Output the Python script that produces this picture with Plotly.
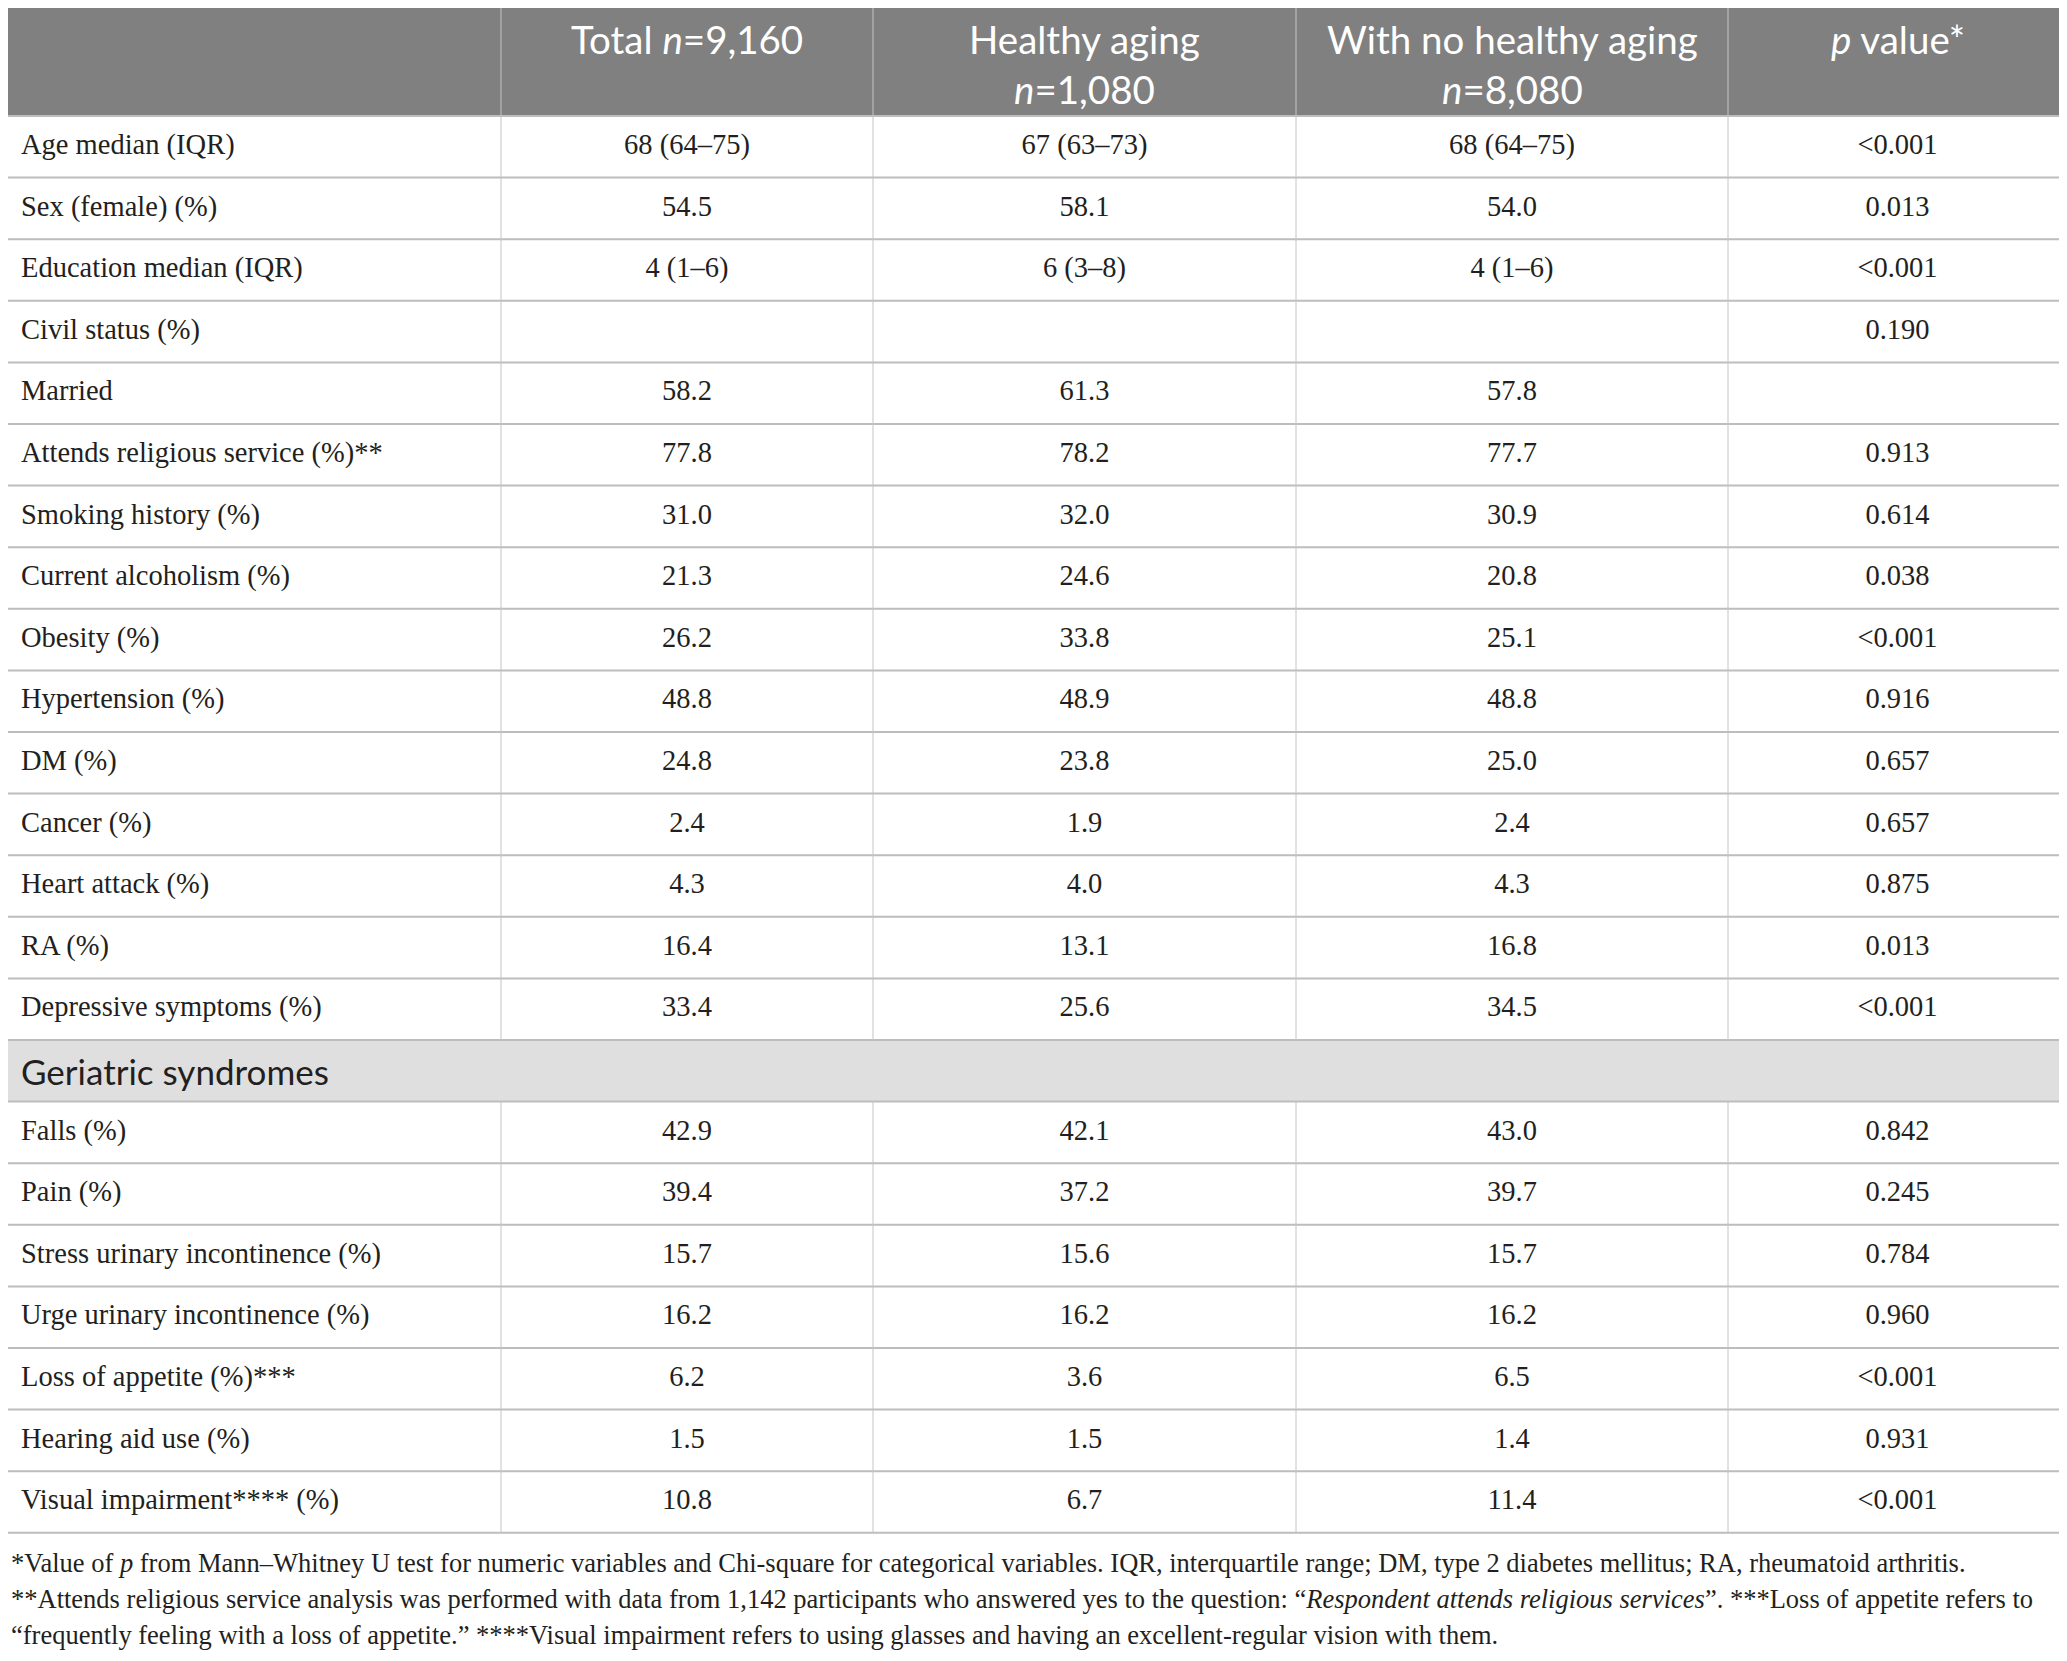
import plotly.graph_objects as go

# table content
col_headers = ["", "Total <i>n</i>=9,160", "Healthy aging<br><i>n</i>=1,080",
               "With no healthy aging<br><i>n</i>=8,080", "<i>p</i> value*"]

rows_top = ["Age median (IQR)", "Sex (female) (%)", "Education median (IQR)", "Civil status (%)",
            "Married", "Attends religious service (%)**", "Smoking history (%)",
            "Current alcoholism (%)", "Obesity (%)", "Hypertension (%)", "DM (%)", "Cancer (%)",
            "Heart attack (%)", "RA (%)", "Depressive symptoms (%)"]
total_top = ["68 (64–75)", "54.5", "4 (1–6)", "", "58.2", "77.8", "31.0", "21.3", "26.2",
             "48.8", "24.8", "2.4", "4.3", "16.4", "33.4"]
healthy_top = ["67 (63–73)", "58.1", "6 (3–8)", "", "61.3", "78.2", "32.0", "24.6", "33.8",
               "48.9", "23.8", "1.9", "4.0", "13.1", "25.6"]
nohealthy_top = ["68 (64–75)", "54.0", "4 (1–6)", "", "57.8", "77.7", "30.9", "20.8", "25.1",
                 "48.8", "25.0", "2.4", "4.3", "16.8", "34.5"]
pval_top = ["<0.001", "0.013", "<0.001", "0.190", "", "0.913", "0.614", "0.038", "<0.001",
            "0.916", "0.657", "0.657", "0.875", "0.013", "<0.001"]

section_label = "Geriatric syndromes"

rows_geri = ["Falls (%)", "Pain (%)", "Stress urinary incontinence (%)", "Urge urinary incontinence (%)",
             "Loss of appetite (%)***", "Hearing aid use (%)", "Visual impairment**** (%)"]
total_geri = ["42.9", "39.4", "15.7", "16.2", "6.2", "1.5", "10.8"]
healthy_geri = ["42.1", "37.2", "15.6", "16.2", "3.6", "1.5", "6.7"]
nohealthy_geri = ["43.0", "39.7", "15.7", "16.2", "6.5", "1.4", "11.4"]
pval_geri = ["0.842", "0.245", "0.784", "0.960", "<0.001", "0.931", "<0.001"]

footnotes = [
    "*Value of <i>p</i> from Mann–Whitney U test for numeric variables and Chi-square for categorical variables. IQR, interquartile range; DM, type 2 diabetes mellitus; RA, rheumatoid arthritis.",
    "**Attends religious service analysis was performed with data from 1,142 participants who answered yes to the question: “<i>Respondent attends religious services</i>”. ***Loss of appetite refers to",
    "“frequently feeling with a loss of appetite.” ****Visual impairment refers to using glasses and having an excellent-regular vision with them.",
]

# geometry (pixels, page coordinates)
W, H = 2067, 1661
OFF = 8  # browser body margin, shift axis ranges so data coords == page coords
col_edges = [0, 501, 873, 1296, 1728, 2067]
head_top, head_bot = 5, 116
row_h = 61.6
serif = "Liberation Serif"
sans = "Lato"
line_col = "#c4c4c4"
text_col = "#231f20"

all_rows = rows_top + [None] + rows_geri
n_rows = len(all_rows)
row_y = [head_bot + row_h * (i + 0.5) for i in range(n_rows)]
sec_idx = len(rows_top)
table_bot = head_bot + row_h * n_rows

fig = go.Figure()

# body text columns
cols_data = [total_top + [""] + total_geri, healthy_top + [""] + healthy_geri,
             nohealthy_top + [""] + nohealthy_geri, pval_top + [""] + pval_geri]
labels = [r if r is not None else "" for r in all_rows]
fig.add_trace(go.Scatter(x=[21] * n_rows, y=row_y, text=labels, mode="text",
                         textposition="middle right",
                         textfont=dict(family=serif, size=28.5, color=text_col), hoverinfo="skip"))
for j, vals in enumerate(cols_data):
    cx = (col_edges[j + 1] + col_edges[j + 2]) / 2
    fig.add_trace(go.Scatter(x=[cx] * n_rows, y=row_y, text=vals, mode="text",
                             textposition="middle center",
                             textfont=dict(family=serif, size=28.5, color=text_col), hoverinfo="skip"))

shapes = []
# header band and section band
shapes.append(dict(type="rect", x0=0, x1=W + OFF, y0=head_top, y1=head_bot, fillcolor="#808080",
                   line=dict(width=0), layer="below"))
shapes.append(dict(type="rect", x0=0, x1=W + OFF, y0=head_bot + row_h * sec_idx,
                   y1=head_bot + row_h * (sec_idx + 1), fillcolor="#e0dfe0",
                   line=dict(width=0), layer="below"))
# horizontal rules
for i in range(n_rows + 1):
    y = head_bot + row_h * i
    shapes.append(dict(type="line", x0=0, x1=W + OFF, y0=y, y1=y, line=dict(color="#bdbdbd", width=2)))
shapes.append(dict(type="line", x0=0, x1=W + OFF, y0=head_top, y1=head_top,
                   line=dict(color="#bdbdbd", width=2)))
# vertical rules (section row spans the full width)
for x in col_edges[1:-1]:
    shapes.append(dict(type="line", x0=x, x1=x, y0=head_top, y1=head_bot + row_h * sec_idx,
                       line=dict(color=line_col, width=1)))
    shapes.append(dict(type="line", x0=x, x1=x, y0=head_bot + row_h * (sec_idx + 1), y1=table_bot,
                       line=dict(color=line_col, width=1)))

annotations = []
# column headers
for j, txt in enumerate(col_headers):
    if not txt:
        continue
    cx = (col_edges[j] + col_edges[j + 1]) / 2
    annotations.append(dict(x=cx, y=14, text=txt, showarrow=False, xanchor="center", yanchor="top",
                            align="center", font=dict(family=sans, size=38.5, color="white")))
# section label
annotations.append(dict(x=19, y=row_y[sec_idx], text=section_label, showarrow=False,
                        xanchor="left", yanchor="middle",
                        font=dict(family=sans, size=35, color=text_col)))
# footnotes
for k, txt in enumerate(footnotes):
    annotations.append(dict(x=9, y=1563 + 36 * k, text=txt, showarrow=False, xanchor="left",
                            yanchor="middle", font=dict(family=serif, size=26.5, color=text_col)))

fig.update_layout(
    width=W, height=H, margin=dict(l=0, r=0, t=0, b=0),
    paper_bgcolor="white", plot_bgcolor="white", showlegend=False,
    xaxis=dict(range=[OFF, W + OFF], visible=False, fixedrange=True),
    yaxis=dict(range=[H + OFF, OFF], visible=False, fixedrange=True),
    shapes=shapes, annotations=annotations,
)

fig.write_html("out.html")
